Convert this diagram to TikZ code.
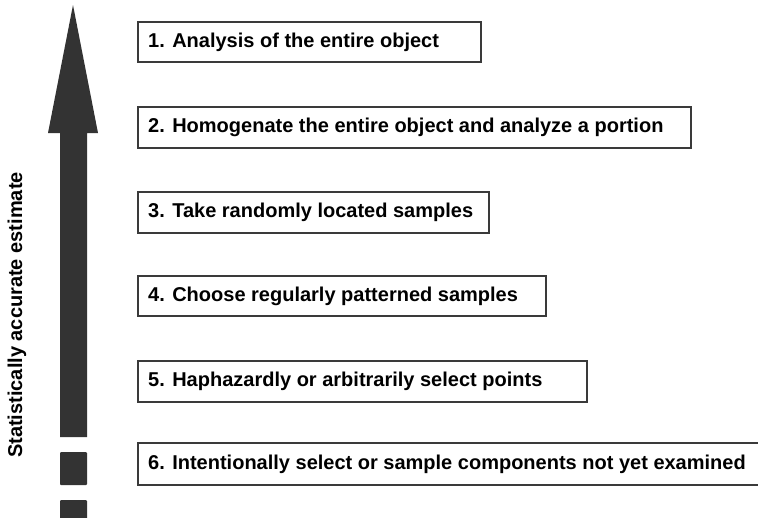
\documentclass[tikz,border=0pt]{standalone}
\usepackage{fontspec}
\setmainfont{Liberation Sans}
\definecolor{arrowgray}{HTML}{333333}
\definecolor{boxgray}{HTML}{3A3A3A}
\tikzset{
  stepbox/.style={draw=boxgray, line width=2.5pt, fill=white, inner sep=0pt},
  steptext/.style={anchor=west, font=\bfseries\fontsize{20}{22}\selectfont, inner sep=0pt},
  piece/.style={fill=arrowgray, draw=none}
}
\begin{document}
\begin{tikzpicture}[x=1pt,y=-1pt]
\useasboundingbox (0,0) rectangle (758,517);
% arrow
\fill[piece] (73,5) -- (98,133) -- (87,133) -- (87,437) -- (60,437) -- (60,133) -- (48,133) -- cycle;
\fill[piece, rounded corners=1pt] (60,452) rectangle (87,485);
\fill[piece, rounded corners=1pt] (60,500) rectangle (87,520);
\node[rotate=90, font=\bfseries\fontsize{20}{22}\selectfont, inner sep=0pt] (lab) at (17,315) {Statistically accurate estimate};
% boxes
\draw[stepbox] (138,22) rectangle (481,62);
\node[steptext] (t1) at (148,42) {1. Analysis of the entire object};
\draw[stepbox] (138,107) rectangle (691,148);
\node[steptext] (t2) at (148,127.5) {2. Homogenate the entire object and analyze a portion};
\draw[stepbox] (138,192) rectangle (489,233);
\node[steptext] (t3) at (148,212.5) {3. Take randomly located samples};
\draw[stepbox] (138,276) rectangle (546,316);
\node[steptext] (t4) at (148,296) {4. Choose regularly patterned samples};
\draw[stepbox] (138,361) rectangle (587,402);
\node[steptext] (t5) at (148,381.5) {5. Haphazardly or arbitrarily select points};
\draw[stepbox] (138,443) rectangle (762,485);
\node[steptext] (t6) at (148,464) {6. Intentionally select or sample components not yet examined};
\end{tikzpicture}
\end{document}
